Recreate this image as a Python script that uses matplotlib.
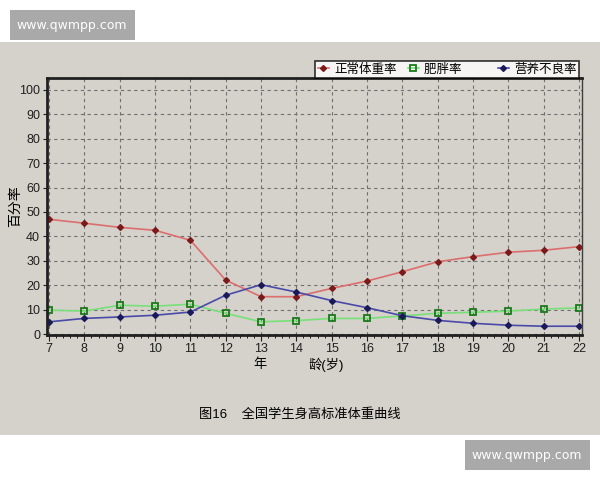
import numpy as np
import matplotlib
matplotlib.use('Agg')
from matplotlib import pyplot as plt
from matplotlib.ticker import MultipleLocator
import matplotlib.patches as mpatches

plt.rcParams['font.family'] = ['Liberation Sans', 'Noto Sans CJK SC', 'DejaVu Sans']

ages = [7, 8, 9, 10, 11, 12, 13, 14, 15, 16, 17, 18, 19, 20, 21, 22]
normal = [47.0, 45.4, 43.7, 42.5, 38.4, 22.1, 15.3, 15.3, 18.7, 21.7, 25.5, 29.6, 31.7, 33.5, 34.3, 35.8]
obese = [9.8, 9.4, 11.8, 11.4, 12.2, 8.5, 5.0, 5.5, 6.4, 6.4, 7.4, 8.5, 8.9, 9.4, 10.2, 10.7]
malnut = [5.0, 6.4, 7.0, 7.7, 9.0, 15.9, 20.2, 17.2, 13.7, 10.8, 7.5, 5.6, 4.4, 3.6, 3.2, 3.2]
names = ['正常体重率', '肥胖率', '营养不良率']
yticks = list(range(0, 101, 10))

bg = '#d5d1cb'
fig = plt.figure(figsize=(6, 4.8), dpi=100)
fig.patch.set_facecolor('white')

# gray panel behind the chart
fig.patches.append(mpatches.Rectangle((0, 0.094), 1, 0.818, transform=fig.transFigure,
                                      facecolor=bg, edgecolor='none', zorder=-5))
# watermarks
fig.patches.append(mpatches.Rectangle((10/600, 1-40/480), 125/600, 30/480, transform=fig.transFigure,
                                      facecolor='#a9a9a9', edgecolor='none', zorder=-4))
fig.text(72/600, 1-25/480, 'www.qwmpp.com', color='white', fontsize=9, ha='center', va='center',
         family='DejaVu Sans')
fig.patches.append(mpatches.Rectangle((465/600, 1-470/480), 125/600, 30/480, transform=fig.transFigure,
                                      facecolor='#a9a9a9', edgecolor='none', zorder=-4))
fig.text(527/600, 1-455/480, 'www.qwmpp.com', color='white', fontsize=9, ha='center', va='center',
         family='DejaVu Sans')

ax = fig.add_axes([47/600, 1-335/480, 535/600, 257/480])
ax.set_facecolor(bg)

ax.plot(ages, normal, color='#dc6e6e', lw=1.2, marker='D', ms=3, mfc='#7a1a1a', mec='#7a1a1a', label=names[0])
ax.plot(ages, obese, color='#78e078', lw=1.2, marker='s', ms=4.5, mfc='none', mec='#1a7a1a', mew=1.3, label=names[1])
ax.plot(ages, malnut, color='#4a4aa8', lw=1.2, marker='D', ms=3, mfc='#1a1a5a', mec='#1a1a5a', label=names[2])

ax.set_xlim(6.94, 22.09)
ax.set_ylim(-0.4, 104.9)
ax.set_xticks(ages)
ax.set_yticks(yticks)
ax.xaxis.set_minor_locator(MultipleLocator(0.2))
ax.tick_params(axis='both', labelsize=9, length=3, width=0.8, pad=2, colors='#202020')
ax.tick_params(axis='x', which='minor', length=2.5, width=0.6)
ax.tick_params(axis='x', which='major', length=4, pad=2)
ax.grid(True, which='major', linestyle=(0, (3, 3)), color='#707070', lw=0.8)

for side in ['left', 'bottom', 'top']:
    ax.spines[side].set_linewidth(2)
    ax.spines[side].set_color('#202020')
ax.spines['right'].set_linewidth(1)
ax.spines['right'].set_color('#404040')

fig.text(15/600, 1-206/480, '百分率', fontsize=10, rotation=90, ha='center', va='center')
fig.text(260/600, 1-365/480, '年', fontsize=9.5, ha='center', va='center')
fig.text(326/600, 1-365/480, '龄(岁)', fontsize=9.5, ha='center', va='center')
fig.text(300/600, 1-414/480, '图16    全国学生身高标准体重曲线', fontsize=9.5, ha='center', va='center')

leg = ax.legend(labels=[names[0], names[1] + '\u3000\u3000', names[2]],
                loc='lower right', bbox_to_anchor=(0.9945, 1.0), ncol=3, fontsize=9, frameon=True,
                fancybox=False, edgecolor='black', borderpad=0.2, handlelength=0.9, handletextpad=0.4,
                columnspacing=0.9, borderaxespad=0)
leg.get_frame().set_linewidth(1.2)
leg.get_frame().set_facecolor('white')

plt.savefig('out.png', dpi=100, facecolor=fig.get_facecolor())
